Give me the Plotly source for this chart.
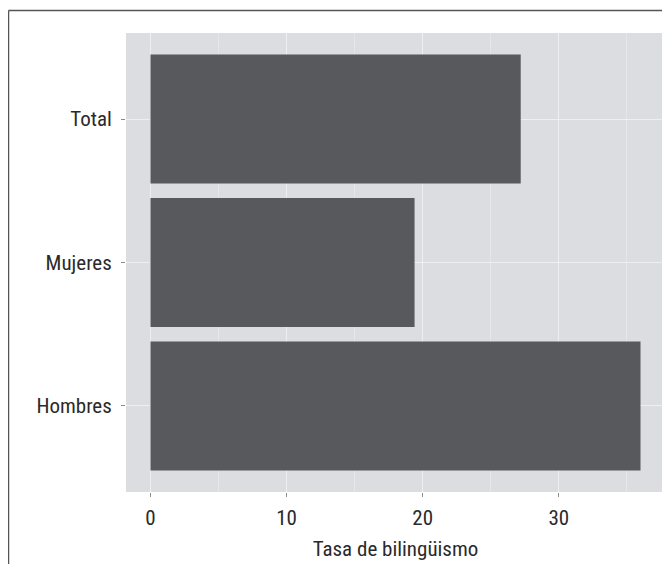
import plotly.graph_objects as go

categories = ["Hombres", "Mujeres", "Total"]
values = [36.0, 19.4, 27.2]
x_ticks = [0, 10, 20, 30]
x_title = "Tasa de bilingüismo"

OFF = 8  # page body margin offset
W, H = 670 - OFF, 564 - OFF
L, R, T, B = 126 - OFF, 5, 33 - OFF, 72
pw, ph = W - L - R, H - T - B

def px_x(p):
    return (p - OFF - L) / pw

def px_y(p):
    return (H - B - (p - OFF)) / ph

fig = go.Figure(go.Bar(
    y=categories, x=values, orientation="h",
    marker=dict(color="#58595c", line=dict(width=0)),
    width=0.9,
))

font = "Roboto Condensed, Liberation Sans Narrow, Arial Narrow, sans-serif"
fs = 21
tf = dict(size=fs, family=font, color="#2a2a2a", weight=400)
fig.update_layout(
    width=W, height=H,
    margin=dict(l=L, r=R, t=T, b=B),
    paper_bgcolor="white",
    plot_bgcolor="#dcdde0",
    showlegend=False,
    bargap=0.1,
    font=dict(family=font, size=fs, color="#2a2a2a"),
    xaxis=dict(
        range=[-1.8, 37.8], tickvals=x_ticks, ticktext=[str(v) for v in x_ticks],
        showgrid=True, gridcolor="#eeeff1", gridwidth=1.2,
        minor=dict(dtick=5, tick0=0, showgrid=True, gridcolor="#e5e6e8", gridwidth=1),
        zeroline=False, ticks="outside", ticklen=4, tickcolor="#8a8a8a",
        tickfont=tf, ticklabelstandoff=3,
        title=dict(text=x_title, font=tf, standoff=12),
        showline=False,
    ),
    yaxis=dict(
        categoryorder="array", categoryarray=categories,
        range=[-0.6, 2.6],
        showgrid=True, gridcolor="#eeeff1", gridwidth=1.2,
        zeroline=False, ticks="outside", ticklen=4, tickcolor="#8a8a8a",
        tickfont=tf, ticklabelstandoff=5,
        showline=False,
    ),
    shapes=[
        dict(type="line", xref="paper", yref="paper",
             x0=px_x(8.5), x1=px_x(672), y0=px_y(10.5), y1=px_y(10.5),
             line=dict(color="#555555", width=1.5)),
        dict(type="line", xref="paper", yref="paper",
             x0=px_x(8.5), x1=px_x(8.5), y0=px_y(10.5), y1=px_y(566),
             line=dict(color="#555555", width=1.5)),
    ],
)

fig.write_html("out.html")
